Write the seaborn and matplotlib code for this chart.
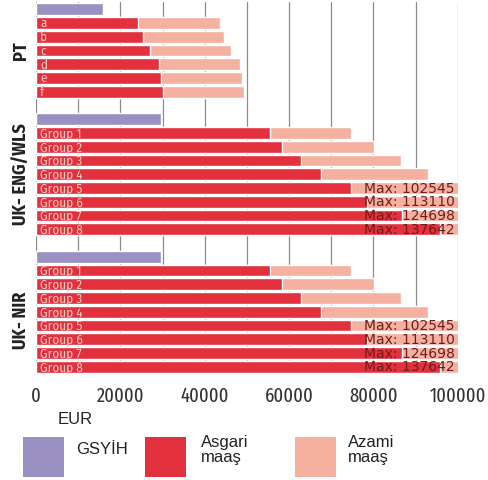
import pandas as pd
import matplotlib
matplotlib.use("Agg")
import matplotlib.pyplot as plt
from matplotlib.patches import Rectangle
from matplotlib import font_manager
import seaborn as sns

# ---------- data ----------
pt_labels = ["a", "b", "c", "d", "e", "f"]
pt_gdp = 15800
pt_min = [24100, 25300, 27000, 29100, 29700, 30200]
pt_max = [43600, 44700, 46200, 48300, 48800, 49300]

uk_labels = ["Group 1", "Group 2", "Group 3", "Group 4",
             "Group 5", "Group 6", "Group 7", "Group 8"]
uk_gdp = 29700
uk_min = [55400, 58300, 62900, 67500, 74600, 78500, 86800, 95800]
uk_max = [74600, 80100, 86500, 92900, 102545, 113110, 124698, 137642]

regions = ["PT", "UK- ENG/WLS", "UK- NIR"]
region_gdp = [pt_gdp, uk_gdp, uk_gdp]
region_rows = [(pt_labels, pt_min, pt_max),
               (uk_labels, uk_min, uk_max),
               (uk_labels, uk_min, uk_max)]

legend_labels = ["GSYİH", "Asgari\nmaaş", "Azami\nmaaş"]
xlabel = "EUR"
x_max = 100000

c_gdp = "#9a90c2"
c_min = "#e2303c"
c_max = "#f5b0a0"

# ---------- build table ----------
rows = []
order = []
for i, (reg, gdp, (labs, mins, maxs)) in enumerate(zip(regions, region_gdp, region_rows)):
    key = f"{reg}|GDP"
    order.append(key)
    rows.append({"row": key, "region": reg, "label": "", "gdp": gdp, "min": None, "max": None})
    for lab, mn, mx in zip(labs, mins, maxs):
        key = f"{reg}|{lab}"
        order.append(key)
        rows.append({"row": key, "region": reg, "label": lab, "gdp": None, "min": mn, "max": mx})
    if i < len(regions) - 1:
        order.append(f"gap{i}")
df = pd.DataFrame(rows)

# ---------- fonts ----------
names = {f.name for f in font_manager.fontManager.ttflist}


def cond_font(pref):
    # narrow font like the original, DejaVu condensed as fallback
    if pref in names:
        return {"fontfamily": pref}
    return {"fontfamily": "DejaVu Sans", "fontstretch": "condensed"}


tick_font = cond_font("Fira Sans Extra Condensed")
lab_font = cond_font("Fira Sans Condensed")

sns.set_style("white")
plt.rcParams["font.family"] = ["Liberation Sans", "DejaVu Sans"]

fig = plt.figure(figsize=(4.89, 4.80), dpi=100)
ax = fig.add_axes([36 / 489, 1 - 373.6 / 480, 421.7 / 489, 371.3 / 480])

bw = 0.85
sns.barplot(data=df.dropna(subset=["max"]), x="max", y="row", order=order,
            color=c_max, width=bw, saturation=1, orient="h", ax=ax, zorder=2)
sns.barplot(data=df.dropna(subset=["min"]), x="min", y="row", order=order,
            color=c_min, width=bw, saturation=1, orient="h", ax=ax, zorder=3)
sns.barplot(data=df.dropna(subset=["gdp"]), x="gdp", y="row", order=order,
            color=c_gdp, width=bw, saturation=1, orient="h", ax=ax, zorder=3)

ax.set_xlim(0, x_max)
ax.set_ylim(len(order) - 0.5, -0.5)
ax.set_xticks(range(0, x_max + 1, 20000))
ax.set_xticks(range(0, x_max + 1, 10000), minor=True)
ax.set_xticklabels([str(v) for v in range(0, x_max + 1, 20000)],
                   fontsize=14.5, color="#333333", **tick_font)
ax.tick_params(axis="x", which="both", length=0, pad=9)
ax.set_yticks([])
ax.set_xlabel("")
ax.set_ylabel("")
ax.grid(axis="x", which="both", color="#8c8c8c", linewidth=0.9, zorder=0)
ax.set_axisbelow(True)
for s in ax.spines.values():
    s.set_visible(False)

# row labels and max labels
for _, r in df.iterrows():
    y = order.index(r["row"])
    if r["label"]:
        ax.text(1000, y + 0.05, r["label"], va="center", ha="left",
                fontsize=9.5, color="#f8c8c4", zorder=5, **lab_font)
    if pd.notna(r["max"]) and r["max"] > x_max:
        ax.text(x_max * 0.993, y + 0.05, f"Max: {int(r['max'])}", va="center", ha="right",
                fontfamily="DejaVu Sans", fontsize=10, color="#6e1c1c", zorder=5)

# region labels
for reg in regions:
    idx = [order.index(k) for k in order if k.startswith(reg + "|")]
    yc = (min(idx) + max(idx)) / 2
    if reg == "UK- NIR":
        yc += 0.6
    ax.text(-0.037, yc, reg, transform=ax.get_yaxis_transform(), rotation=90,
            va="center", ha="center", fontsize=13, fontweight="bold",
            color="#222222", **lab_font)

# x axis unit
fig.text(75 / 489, 1 - 419 / 480, xlabel, ha="center", va="center", fontsize=12, color="#222222")

# legend
items = [(23, c_gdp, 76), (145, c_min, 201), (295, c_max, 348)]
for (x0, col, tx), lab in zip(items, legend_labels):
    fig.add_artist(Rectangle((x0 / 489, 1 - 477 / 480), 41 / 489, 40 / 480,
                             transform=fig.transFigure, color=col, lw=0))
    fig.text(tx / 489, 1 - 450 / 480, lab, ha="left", va="center",
             fontsize=12, color="#222222", linespacing=0.95)

plt.savefig("out.png", dpi=100)
plt.close()
